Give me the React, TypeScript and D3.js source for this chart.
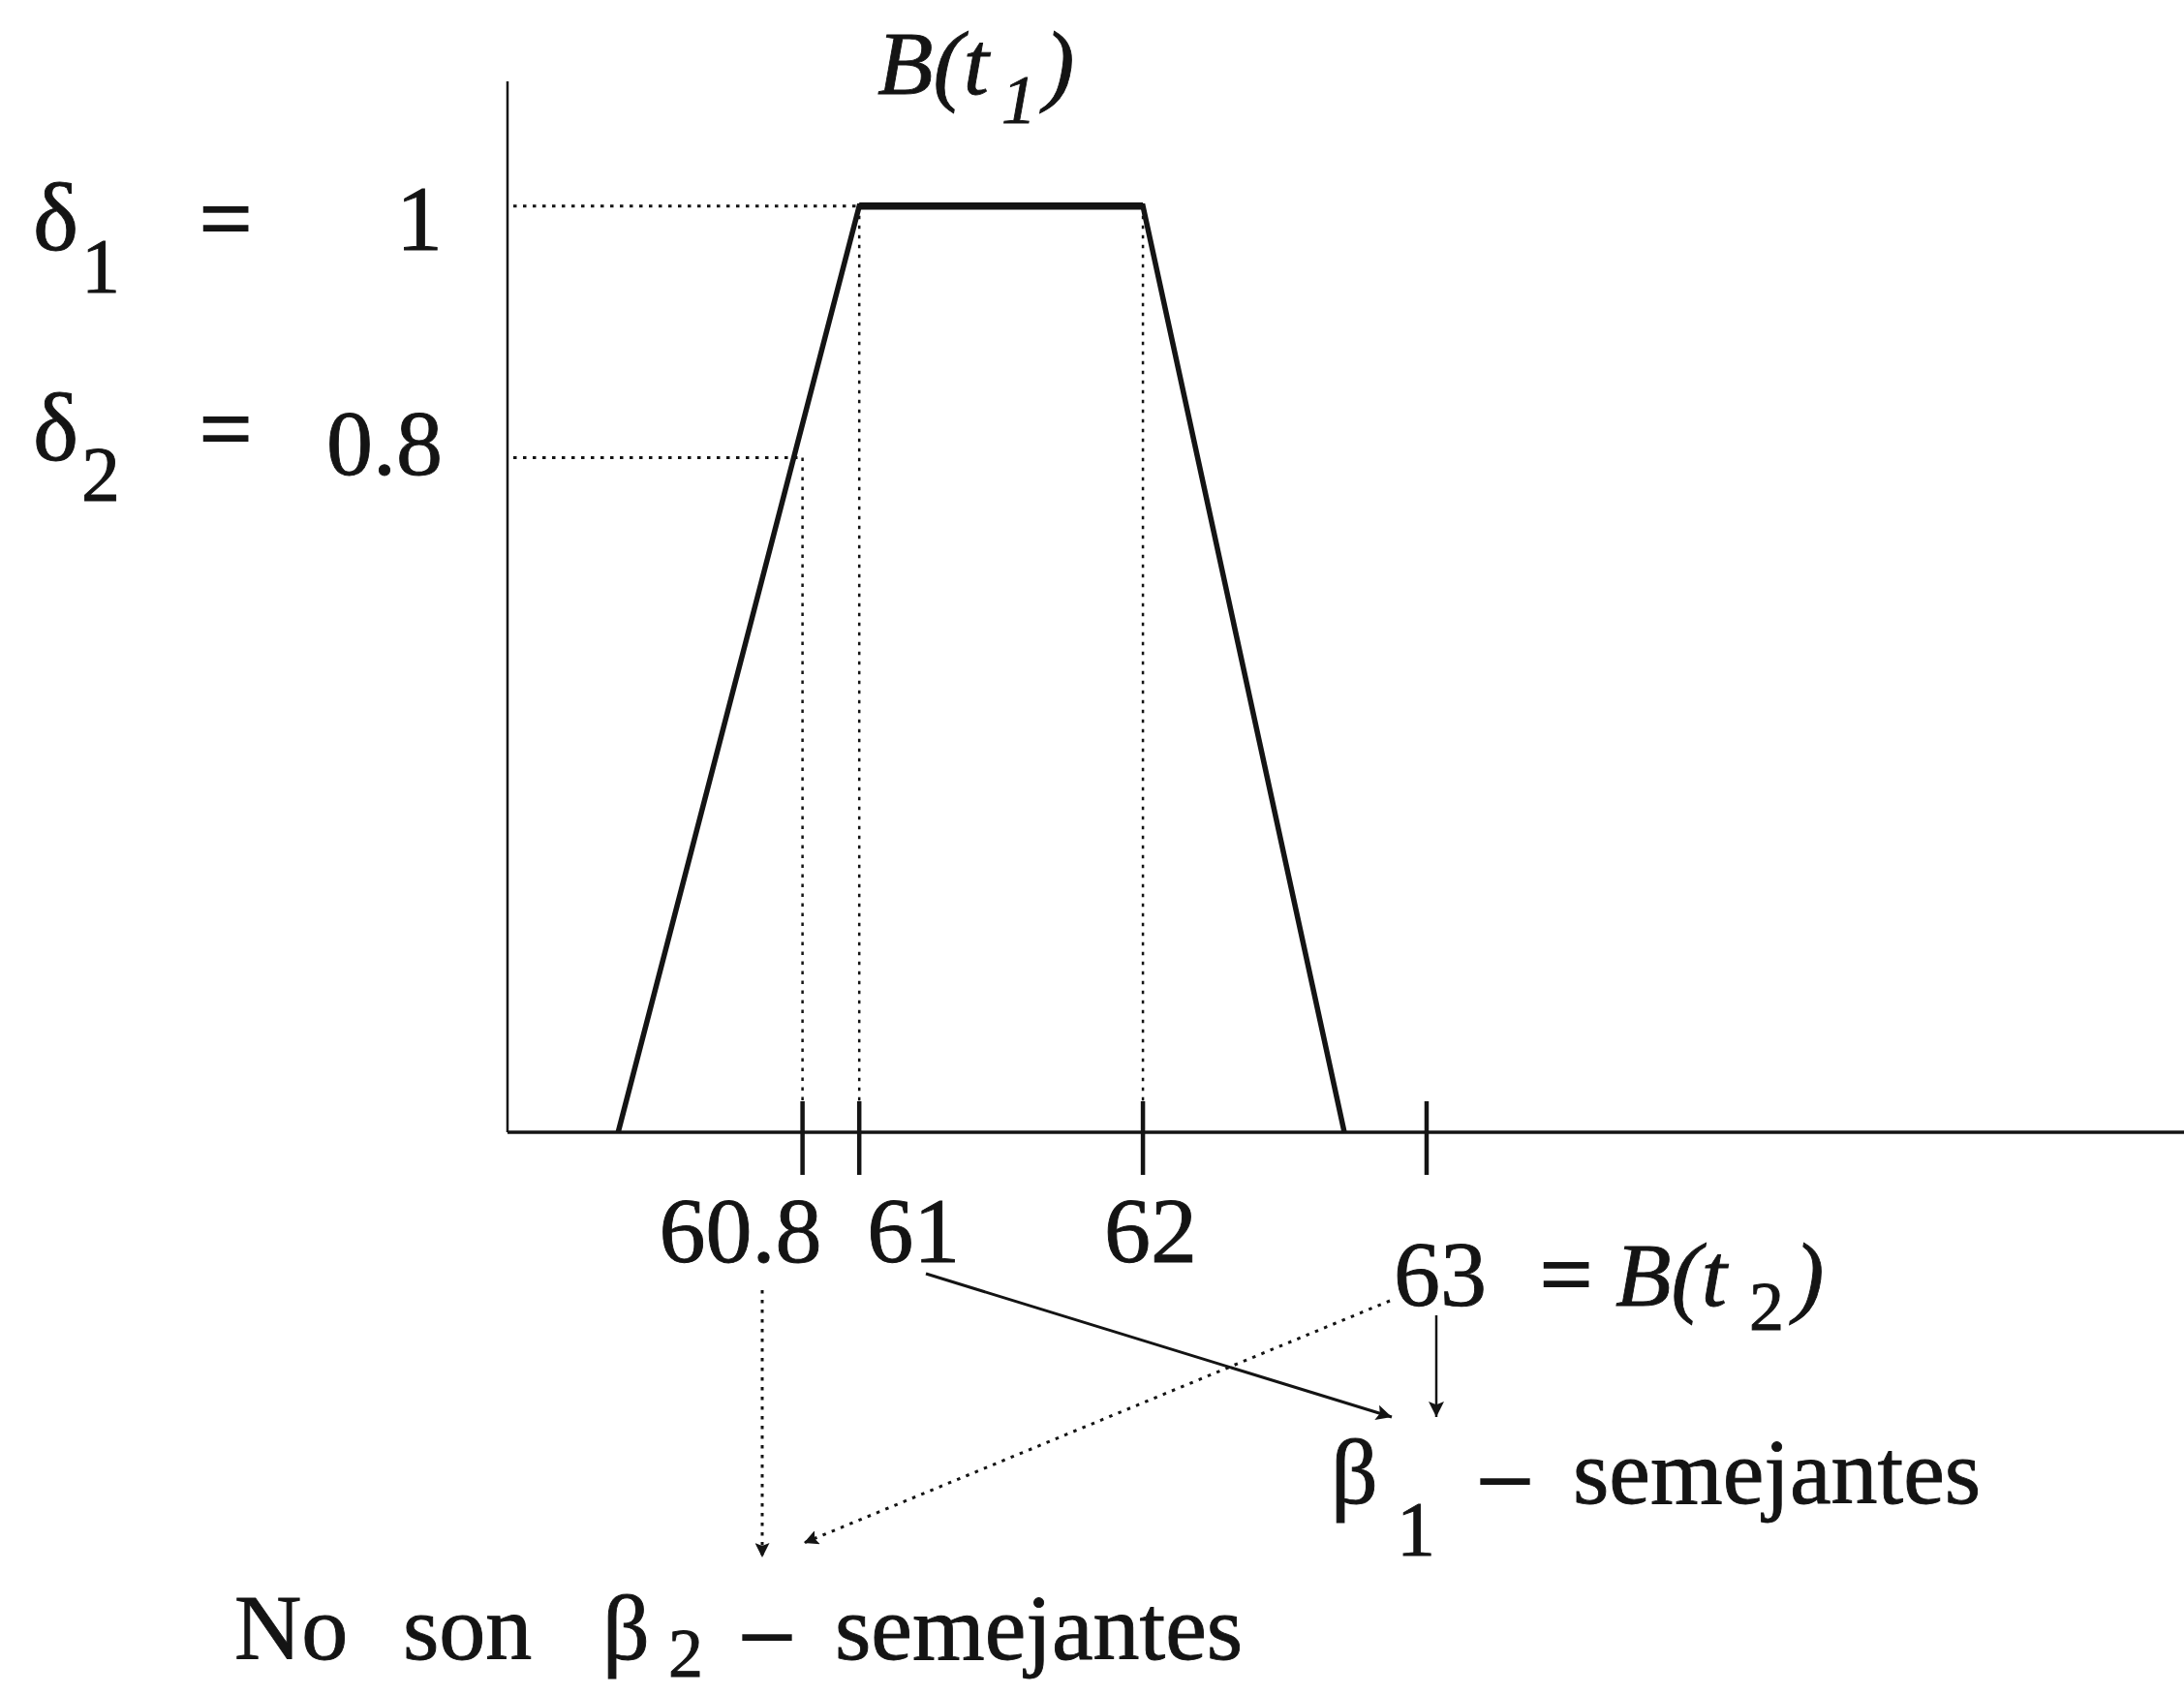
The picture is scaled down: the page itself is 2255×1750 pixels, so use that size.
import React from 'react';
import * as d3 from 'd3';

// Membership function B(t1): a trapezoid over the time axis
const trapezoidX = [60.15, 61, 62, 62.71];
const trapezoidY = [0, 1, 1, 0];

// Similarity thresholds δ1, δ2
const levelSubscripts = ['1', '2'];
const levelValues = [1, 0.8];
const levelLabels = ['1', '0.8'];

// Marked points on the time axis
const tickValues = [60.8, 61, 62, 63];
const tickLabels = ['60.8', '61', '62', '63'];

// Points where the dotted guides meet the trapezoid
const guideX = [60.8, 61, 62];
const guideY = [0.8, 1, 1];

const W = 2255;
const H = 1750;
const FONT = '"Liberation Serif", "Times New Roman", Times, serif';
const INK = '#141414';
const FS = 96;

// label placement around each tick
const tickLabelLayout: Record<string, { anchor: string; dx: number; dy: number }> = {
  '60.8': { anchor: 'end', dx: 20, dy: 134 },
  '61': { anchor: 'start', dx: 8, dy: 134 },
  '62': { anchor: 'middle', dx: 8, dy: 134 },
  '63': { anchor: 'middle', dx: 14, dy: 179 },
};

// δ rows: baseline offsets from each level line
const levelRowLayout = [
  { deltaDy: 45, valueDy: 45, subDy: 44 },
  { deltaDy: 3, valueDy: 18, subDy: 42 },
];

export default function App() {
  const x = d3.scaleLinear().domain([59.76, 65.67]).range([524, W]);
  const y = d3.scalePow().exponent(1.42).domain([0, 1.093]).range([1169, 84]);

  const pts: [number, number][] = trapezoidX.map((v, i) => [v, trapezoidY[i]]);
  const line = d3
    .line<[number, number]>()
    .x((d) => x(d[0]))
    .y((d) => y(d[1]));

  const x0 = x.range()[0];
  const y0 = y(0);
  const yTop = y.range()[1];

  const dotted = { stroke: INK, strokeWidth: 3, strokeDasharray: '3.5 6.5', fill: 'none' };
  const textInk = { fill: INK, stroke: INK, strokeWidth: 0.9 };

  return (
    <svg
      width={W}
      height={H}
      viewBox={`0 0 ${W} ${H}`}
      style={{ position: 'absolute', left: 0, top: 0, background: '#fff' }}
      fontFamily={FONT}
    >
      <defs>
        <marker id="headSolid" viewBox="0 0 10 10" refX="10" refY="5" markerUnits="userSpaceOnUse"
          markerWidth="34" markerHeight="16" orient="auto">
          <path d="M0,0 L10,5 L0,10 L2,5 Z" fill={INK} />
        </marker>
        <marker id="headDot" viewBox="0 0 10 10" refX="10" refY="5" markerUnits="userSpaceOnUse"
          markerWidth="28" markerHeight="15" orient="auto">
          <path d="M0,0 L10,5 L0,10 L2,5 Z" fill={INK} />
        </marker>
      </defs>
      <rect width={W} height={H} fill="#fff" />

      {/* axes */}
      <line x1={x0} y1={yTop} x2={x0} y2={y0} stroke={INK} strokeWidth={2.5} />
      <line x1={x0} y1={y0} x2={x.range()[1]} y2={y0} stroke={INK} strokeWidth={3.5} />

      {/* horizontal guides at each threshold */}
      {levelValues.map((v, i) => (
        <line key={'h' + i} x1={x0 + 6} y1={y(v)} x2={x(guideX[i === 0 ? 1 : 0])} y2={y(v)} {...dotted} />
      ))}
      {/* vertical guides down to the axis */}
      {guideX.map((v, i) => (
        <line key={'v' + i} x1={x(v)} y1={y(guideY[i])} x2={x(v)} y2={y0} {...dotted} strokeWidth={2.5} />
      ))}

      {/* trapezoid */}
      <path d={line(pts) || ''} fill="none" stroke={INK} strokeWidth={5.5} strokeLinejoin="miter" />
      <path d={line(pts.slice(1, 3)) || ''} fill="none" stroke={INK} strokeWidth={7.5} />

      {/* ticks */}
      {tickValues.map((v) => (
        <line key={'t' + v} x1={x(v)} y1={y0 - 32} x2={x(v)} y2={y0 + 44} stroke={INK} strokeWidth={4.5} />
      ))}
      {tickValues.map((v, i) => {
        const L = tickLabelLayout[tickLabels[i]];
        return (
          <text key={'tl' + v} x={x(v) + L.dx} y={y0 + L.dy} textAnchor={L.anchor} fontSize={FS} {...textInk}>
            {tickLabels[i]}
          </text>
        );
      })}

      {/* threshold labels */}
      {levelValues.map((v, i) => {
        const R = levelRowLayout[i];
        const base = y(v) + R.deltaDy;
        return (
          <g key={'lv' + i} {...textInk}>
            <text x={34} y={base} fontSize={100}>
              δ
            </text>
            <text x={84} y={base + R.subDy} fontSize={80}>
              {levelSubscripts[i]}
            </text>
            <text x={206} y={base} fontSize={FS} strokeWidth={2}>
              =
            </text>
            <text x={457} y={y(v) + R.valueDy} fontSize={FS} textAnchor="end">
              {levelLabels[i]}
            </text>
          </g>
        );
      })}

      {/* B(t1) */}
      <text x={906} y={97} fontSize={94} fontStyle="italic" {...textInk}>
        B(t
        <tspan x={1034} y={127} fontSize={72}>1</tspan>
        <tspan x={1078} y={97}>)</tspan>
      </text>

      {/* = B(t2) next to 63 */}
      <text x={1590} y={y0 + 179} fontSize={FS} {...textInk} strokeWidth={2}>=</text>
      <text x={1668} y={y0 + 179} fontSize={94} fontStyle="italic" {...textInk}>
        B(t
        <tspan x={1806} y={y0 + 204} fontSize={72} fontStyle="normal">2</tspan>
        <tspan x={1852} y={y0 + 179}>)</tspan>
      </text>

      {/* arrows */}
      <line x1={956} y1={1315} x2={1437} y2={1463} stroke={INK} strokeWidth={3} markerEnd="url(#headSolid)" />
      <line x1={1483} y1={1358} x2={1483} y2={1463} stroke={INK} strokeWidth={2.5} markerEnd="url(#headSolid)" />
      <line x1={1435} y1={1343} x2={830} y2={1593} {...dotted} markerEnd="url(#headDot)" />
      <line x1={787} y1={1332} x2={787} y2={1608} {...dotted} markerEnd="url(#headDot)" />

      {/* β1 - semejantes */}
      <g {...textInk} fontSize={FS}>
        <text x={1374} y={1552}>β</text>
        <text x={1442} y={1606} fontSize={80}>1</text>
        <text x={1530} y={1552} strokeWidth={2}>–</text>
        <text x={1624} y={1552}>semejantes</text>
      </g>

      {/* No son β2 - semejantes */}
      <g {...textInk} fontSize={FS}>
        <text x={242} y={1713}>No</text>
        <text x={416} y={1713}>son</text>
        <text x={622} y={1713}>β</text>
        <text x={690} y={1731} fontSize={72}>2</text>
        <text x={768} y={1713} strokeWidth={2}>–</text>
        <text x={862} y={1713}>semejantes</text>
      </g>
    </svg>
  );
}
